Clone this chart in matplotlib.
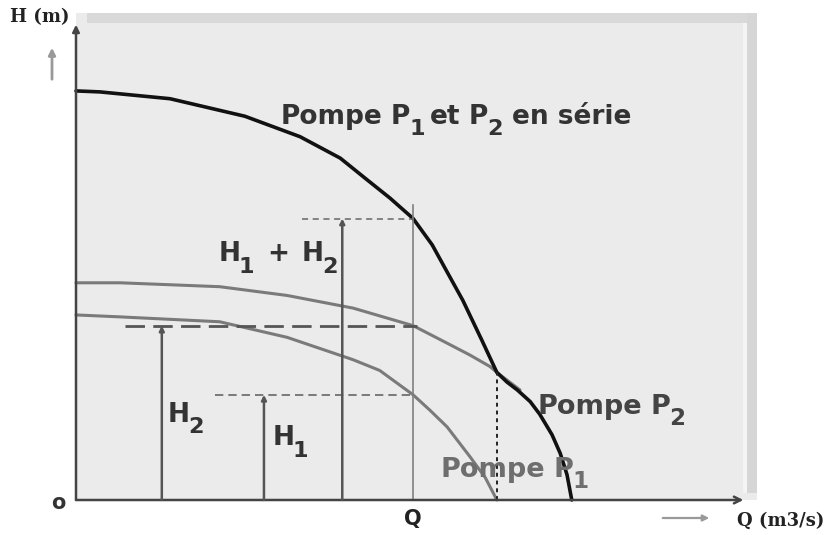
import matplotlib
matplotlib.use("Agg")
import matplotlib.pyplot as plt
from matplotlib.patches import Rectangle, FancyArrowPatch

plt.rcParams['font.family'] = ['DejaVu Sans']

# characteristic curves H(Q)
q_serie = [0, 0.35, 1.38, 2.48, 3.29, 3.88, 4.27, 4.61, 4.95, 5.23, 5.49, 5.68, 5.96,
           6.18, 6.33, 6.48, 6.67, 6.81, 6.99, 7.11, 7.21, 7.28]
h_serie = [42.0, 41.9, 41.2, 39.4, 37.3, 35.1, 32.9, 31.0, 28.9, 26.2, 22.9, 20.5, 16.4,
           13.1, 12.1, 11.3, 10.1, 8.8, 6.7, 4.8, 2.6, 0]

q_p2 = [0, 0.65, 2.11, 3.10, 4.07, 4.95, 5.45, 5.78, 6.08, 6.18, 6.52]
h_p2 = [22.3, 22.3, 21.9, 21.0, 19.7, 17.9, 16.1, 14.9, 13.7, 13.1, 11.3]

q_p1 = [0, 0.65, 2.11, 3.10, 4.07, 4.46, 4.95, 5.20, 5.45, 5.79, 6.01, 6.18]
h_p1 = [19.0, 18.8, 18.3, 16.7, 14.4, 13.3, 10.8, 9.2, 7.5, 4.4, 2.3, 0]

# operating point
q_op = 4.95
h1 = 10.8
h2 = 17.9
h12 = 28.9
q_p1_zero = 6.18
h_p1_zero = 13.1

W, H = 827, 535
fig = plt.figure(figsize=(W / 100, H / 100), dpi=100)


# grey panel behind the plot
def px_rect(x0, y0, x1, y1, color):
    fig.patches.append(Rectangle((x0 / W, 1 - y1 / H), (x1 - x0) / W, (y1 - y0) / H,
                                 transform=fig.transFigure, facecolor=color,
                                 edgecolor='none', zorder=-1))


px_rect(76, 13, 757, 500, '#ebebeb')
px_rect(87, 13, 757, 23, '#d9d9d9')
px_rect(747, 13, 757, 493, '#d6d6d6')
px_rect(743, 23, 747, 493, '#f4f4f4')

ax = fig.add_axes([76 / W, 1 - 500 / H, (757 - 76) / W, (500 - 13) / H])
ax.set_xlim(0, 10)
ax.set_ylim(0, 50)
ax.patch.set_alpha(0)
for s in ax.spines.values():
    s.set_visible(False)
ax.set_xticks([])
ax.set_yticks([])

# axes with arrows
ax.annotate('', xy=(0, 48.8), xytext=(0, 0), annotation_clip=False,
            arrowprops=dict(arrowstyle='-|>', color='#444444', lw=1.8, mutation_scale=10,
                            shrinkA=0, shrinkB=0))
ax.annotate('', xy=(9.8, 0), xytext=(0, 0), annotation_clip=False,
            arrowprops=dict(arrowstyle='->', color='#444444', lw=1.8, mutation_scale=12,
                            shrinkA=0, shrinkB=0))

# curves
ax.plot(q_p2, h_p2, color='#7a7a7a', lw=2.2, solid_capstyle='round', clip_on=False)
ax.plot(q_p1, h_p1, color='#7a7a7a', lw=2.2, solid_capstyle='round', clip_on=False)
ax.plot(q_serie, h_serie, color='#111111', lw=2.6, solid_capstyle='round',
        solid_joinstyle='round', clip_on=False)

# construction lines
ax.plot([q_op, q_op], [0, 30.3], color='#808080', lw=1.2)
ax.plot([q_p1_zero, q_p1_zero], [0, h_p1_zero], color='#222222', lw=1.4, ls=(0, (2, 2)))
ax.plot([3.32, q_op], [h12, h12], color='#666666', lw=1.1, ls=(0, (4, 3)))
ax.plot([0.72, q_op + 0.05], [h2, h2], color='#555555', lw=2.0, ls=(0, (7, 3)))
ax.plot([2.04, q_op], [h1, h1], color='#666666', lw=1.2, ls=(0, (5, 3)))

# height arrows
for qx, hy in [(1.26, h2), (2.76, h1), (3.91, h12)]:
    ax.annotate('', xy=(qx, hy), xytext=(qx, 0),
                arrowprops=dict(arrowstyle='-|>', color='#555555', lw=1.8, mutation_scale=7,
                                shrinkA=0, shrinkB=0))


# text with large subscripts, built piece by piece
def label(x, y, parts, size=19, color='#333333'):
    first = ax.text(x, y, parts[0][0], fontsize=size, fontweight='bold', color=color,
                    ha='left', va='bottom')
    prev = first
    for s, sub, gap in parts[1:]:
        fs = size * 0.85 if sub else size
        dy = -size * 0.36 if sub else 0
        prev = ax.annotate(s, xy=(1, 0), xycoords=(prev, first), xytext=(gap, dy),
                           textcoords='offset points', fontsize=fs, fontweight='bold',
                           color=color, ha='left', va='bottom')
    return first


sp = 6.5
label(3.0, 38.0, [('Pompe', False, 0), ('P', False, sp), ('1', True, -1),
                  ('et', False, 3.5), ('P', False, sp), ('2', True, -1),
                  ('en série', False, sp)])
label(2.09, 23.9, [('H', False, 0), ('1', True, -1), ('+', False, 9),
                   ('H', False, 9), ('2', True, -1)])
label(1.34, 7.4, [('H', False, 0), ('2', True, -1)])
label(2.88, 5.0, [('H', False, 0), ('1', True, -1)])
label(6.77, 8.2, [('Pompe', False, 0), ('P', False, sp), ('2', True, -1)],
      size=19.5, color='#444444')
label(5.35, 1.7, [('Pompe', False, 0), ('P', False, sp), ('1', True, -1)],
      size=19.5, color='#6e6e6e')

ax.text(q_op, -1.95, 'Q', fontsize=15, fontweight='bold', color='#222222',
        ha='center', va='center', clip_on=False)

fig.text(58 / W, 1 - 503 / H, 'o', fontsize=15, fontweight='bold', color='#333333',
         ha='center', va='center')
fig.text(10 / W, 1 - 17 / H, 'H (m)', fontsize=13, fontweight='bold', family='DejaVu Serif',
         color='#222222', ha='left', va='center')
fig.text(737 / W, 1 - 521 / H, 'Q (m3/s)', fontsize=13, fontweight='bold',
         family='DejaVu Serif', color='#222222', ha='left', va='center')

# small direction arrows next to the axis names
fig.patches.append(FancyArrowPatch(
    (52 / W, 1 - 82 / H), (52 / W, 1 - 45 / H), transform=fig.transFigure,
    arrowstyle='-|>', color='#999999', lw=2, mutation_scale=10))
fig.patches.append(FancyArrowPatch(
    (660 / W, 1 - 518 / H), (712 / W, 1 - 518 / H), transform=fig.transFigure,
    arrowstyle='-|>', color='#999999', lw=1.6, mutation_scale=9))

fig.savefig('out.png', dpi=100, facecolor='white')
